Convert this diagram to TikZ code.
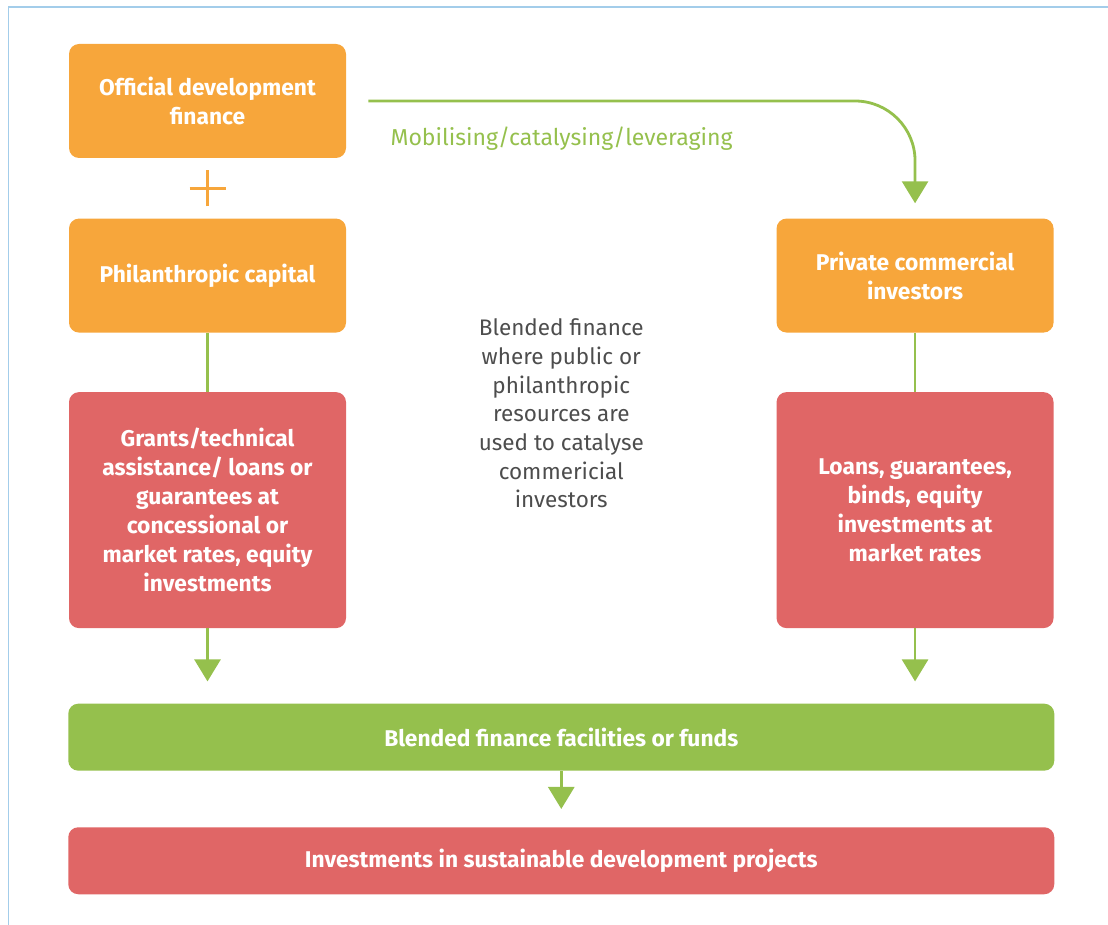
\documentclass[tikz,border=0pt]{standalone}
\usepackage{fontspec}
\setmainfont{Fira Sans}
\usetikzlibrary{positioning,arrows.meta,calc}
\definecolor{amber}{HTML}{F7A63B}
\definecolor{coral}{HTML}{E06666}
\definecolor{leaf}{HTML}{95C04D}
\definecolor{slate}{HTML}{4D4D4D}
\definecolor{sky}{HTML}{A3CDEA}
\tikzset{
  source/.style={rectangle, rounded corners=0.25cm, fill=amber, text=white,
                 minimum width=6.925cm, minimum height=2.85cm, inner sep=0pt,
                 align=center, font=\fontsize{16.2}{20.6}\selectfont\bfseries},
  instrument/.style={source, fill=coral, minimum height=5.9cm},
  band/.style={source, minimum width=24.65cm, minimum height=1.675cm},
  link/.style={draw=leaf, line width=2pt},
  flow/.style={link, -{Triangle[width=0.65cm, length=0.55cm]}, shorten >=0.55cm},
  note/.style={text=slate, align=center, font=\fontsize{16}{20.4}\selectfont}
}
\begin{document}
\begin{tikzpicture}
\useasboundingbox (0,0) rectangle (27.7,-23.125);
\draw[sky, line width=1pt] (0.2125,-23.125) |- (27.7,-0.175);

\node[source] (odf) at (5.1875,-2.525) {Official development\\finance};
\node[source, below=1.5cm of odf] (phil) {Philanthropic capital};
\node[instrument, below=1.475cm of phil] (grants)
  {Grants/technical\\assistance/ loans or\\guarantees at\\concessional or\\market rates, equity\\investments};
\node[source, right=10.75cm of phil] (pci) {Private commercial\\investors};
\node[instrument, below=1.475cm of pci] (loans)
  {Loans, guarantees,\\binds, equity\\investments at\\market rates};
\coordinate (mid) at ($(grants.south)!0.5!(loans.south)$);
\node[band, fill=leaf, below=1.875cm of mid] (blend) {Blended finance facilities or funds};
\node[band, fill=coral, below=1.4cm of blend] (invest) {Investments in sustainable development projects};

\node[note] (blurb) at ($(mid)+(0,5.37)$)
  {Blended finance\\where public or\\philanthropic\\resources are\\used to catalyse\\commericial\\investors};
\node[note, text=leaf, anchor=west, inner sep=0pt, font=\fontsize{16.4}{20}\selectfont] (mob)
  at ($(odf.east)+(1.1,-0.95)$) {Mobilising/catalysing/leveraging};

% connectors
\draw[link] (phil) -- (grants);
\draw[link] (pci) -- (loans);
\draw[flow] (grants) -- (grants |- blend.north);
\draw[flow] (loans) -- (loans |- blend.north);
\draw[flow, shorten >=0.45cm] (blend) -- (invest);
\draw[flow, rounded corners=1.5cm, shorten <=0.55cm, shorten >=0.375cm] (odf.east) -| (pci.north);

% plus between the two sources
\coordinate (plus) at ($(odf.south)!0.5!(phil.north)$);
\draw[amber, line width=2pt] ($(plus)+(-0.45,0)$) -- ($(plus)+(0.45,0)$)
  ($(plus)+(0,-0.45)$) -- ($(plus)+(0,0.45)$);
\end{tikzpicture}
\end{document}
